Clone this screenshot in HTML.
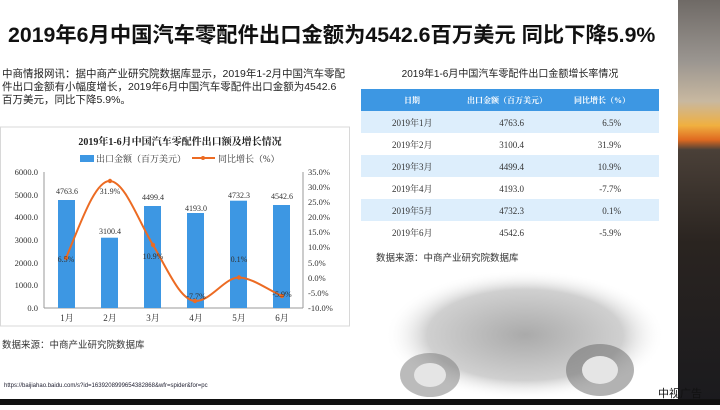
<!DOCTYPE html><html><head><meta charset="utf-8"><style>
body{margin:0;width:720px;height:405px;overflow:hidden;background:#fff;font-family:"Liberation Sans","Noto Sans CJK SC",sans-serif}
svg text{font-family:"Liberation Serif","Noto Serif CJK SC",serif}
.s{font-family:"Liberation Sans","Noto Sans CJK SC",sans-serif}
</style></head><body>
<svg width="720" height="405" viewBox="0 0 720 405">
<defs>
<linearGradient id="sky" x1="0" y1="0" x2="0" y2="1">
<stop offset="0" stop-color="#6f6a66"/><stop offset="0.15" stop-color="#9a9590"/><stop offset="0.25" stop-color="#c8b8a0"/><stop offset="0.31" stop-color="#f0b040"/><stop offset="0.345" stop-color="#e06a20"/><stop offset="0.37" stop-color="#4a4038"/><stop offset="0.6" stop-color="#2a2420"/><stop offset="1" stop-color="#1a1a1e"/>
</linearGradient>
<radialGradient id="car" cx="0.5" cy="0.5" r="0.5"><stop offset="0" stop-color="#aaa"/><stop offset="0.7" stop-color="#d0d0d0"/><stop offset="1" stop-color="#fff" stop-opacity="0"/></radialGradient>
</defs>
<rect x="678" y="0" width="42" height="405" fill="url(#sky)"/>
<rect x="0" y="399" width="720" height="6" fill="#111"/>
<text class="s" x="8" y="42" font-size="21.3" font-weight="bold" fill="#111">2019年6月中国汽车零配件出口金额为4542.6百万美元 同比下降5.9%</text>
<text class="s" font-size="10.5" fill="#222"><tspan x="2" y="77">中商情报网讯：据中商产业研究院数据库显示，2019年1-2月中国汽车零配</tspan><tspan x="2" y="90">件出口金额有小幅度增长，2019年6月中国汽车零配件出口金额为4542.6</tspan><tspan x="2" y="103">百万美元，同比下降5.9%。</tspan></text>
<rect x="0.5" y="127" width="349" height="199" fill="#fff" stroke="#d8d8d8"/>
<text x="180" y="145" font-size="10" font-weight="bold" text-anchor="middle" fill="#222">2019年1-6月中国汽车零配件出口额及增长情况</text>
<rect x="80" y="155" width="14" height="7" fill="#3d97e3"/><text x="96" y="162" font-size="9" fill="#333">出口金额（百万美元）</text>
<line x1="192" y1="158" x2="215" y2="158" stroke="#ec6b23" stroke-width="2"/><circle cx="203" cy="158" r="2" fill="#ec6b23"/><text x="218" y="162" font-size="9" fill="#333">同比增长（%）</text>
<g font-size="8.5" fill="#333">
<text x="38" y="175" text-anchor="end">6000.0</text><text x="38" y="198" text-anchor="end">5000.0</text><text x="38" y="220" text-anchor="end">4000.0</text><text x="38" y="243" text-anchor="end">3000.0</text><text x="38" y="266" text-anchor="end">2000.0</text><text x="38" y="288" text-anchor="end">1000.0</text><text x="38" y="311" text-anchor="end">0.0</text>
<text x="308" y="175">35.0%</text><text x="308" y="190">30.0%</text><text x="308" y="205">25.0%</text><text x="308" y="220">20.0%</text><text x="308" y="235">15.0%</text><text x="308" y="250">10.0%</text><text x="308" y="266">5.0%</text><text x="308" y="281">0.0%</text><text x="308" y="296">-5.0%</text><text x="308" y="311">-10.0%</text>
</g>
<line x1="44" y1="172" x2="44" y2="308" stroke="#999"/><line x1="303" y1="172" x2="303" y2="308" stroke="#999"/><line x1="44" y1="308" x2="303" y2="308" stroke="#999"/>
<g fill="#3d97e3">
<rect x="58" y="200" width="17" height="108"/><rect x="101" y="237.7" width="17" height="70.3"/><rect x="144" y="206" width="17" height="102"/><rect x="187" y="213" width="17" height="95"/><rect x="230" y="200.7" width="17" height="107.3"/><rect x="273" y="205" width="17" height="103"/>
</g>
<path d="M66,258 C80,225 95,180 110,181 C125,182 138,220 153,245 C168,270 180,300 195,301 C210,302 225,277 239,277.5 C253,278 268,290 282,296" fill="none" stroke="#ec6b23" stroke-width="2"/>
<g fill="#ec6b23"><circle cx="66" cy="258" r="2.2"/><circle cx="110" cy="181" r="2.2"/><circle cx="153" cy="245" r="2.2"/><circle cx="195" cy="301" r="2.2"/><circle cx="239" cy="277.5" r="2.2"/><circle cx="282" cy="296" r="2.2"/></g>
<g font-size="8" fill="#333" text-anchor="middle">
<text x="67" y="194">4763.6</text><text x="110" y="234">3100.4</text><text x="153" y="200">4499.4</text><text x="196" y="211">4193.0</text><text x="239" y="198">4732.3</text><text x="282" y="199">4542.6</text>
<text x="66" y="262">6.5%</text><text x="110" y="194">31.9%</text><text x="153" y="259">10.9%</text><text x="196" y="299">-7.7%</text><text x="239" y="262">0.1%</text><text x="282" y="297">-5.9%</text>
</g>
<g font-size="9" fill="#333" text-anchor="middle"><text x="67" y="321">1月</text><text x="110" y="321">2月</text><text x="153" y="321">3月</text><text x="196" y="321">4月</text><text x="239" y="321">5月</text><text x="282" y="321">6月</text></g>
<text class="s" x="2" y="348" font-size="9.5" fill="#333">数据来源：中商产业研究院数据库</text>
<text class="s" x="4" y="387" font-size="6" fill="#223">https://baijiahao.baidu.com/s?id=1639208999654382868&amp;wfr=spider&amp;for=pc</text>
<text class="s" x="510" y="77" font-size="10" text-anchor="middle" fill="#222">2019年1-6月中国汽车零配件出口金额增长率情况</text>
<rect x="361" y="89" width="298" height="22" fill="#3d97e3"/>
<g font-size="8" fill="#fff" font-weight="bold" text-anchor="middle"><text x="412" y="103">日期</text><text x="507" y="103">出口金额（百万美元）</text><text x="602" y="103">同比增长（%）</text></g>
<rect x="361" y="111" width="298" height="22" fill="#ddeefc"/><rect x="361" y="155" width="298" height="22" fill="#ddeefc"/><rect x="361" y="199" width="298" height="22" fill="#ddeefc"/>
<g font-size="9" fill="#333">
<text x="392" y="126">2019年1月</text><text x="392" y="148">2019年2月</text><text x="392" y="170">2019年3月</text><text x="392" y="192">2019年4月</text><text x="392" y="214">2019年5月</text><text x="392" y="236">2019年6月</text>
<g text-anchor="end"><text x="524" y="126">4763.6</text><text x="524" y="148">3100.4</text><text x="524" y="170">4499.4</text><text x="524" y="192">4193.0</text><text x="524" y="214">4732.3</text><text x="524" y="236">4542.6</text>
<text x="621" y="126">6.5%</text><text x="621" y="148">31.9%</text><text x="621" y="170">10.9%</text><text x="621" y="192">-7.7%</text><text x="621" y="214">0.1%</text><text x="621" y="236">-5.9%</text></g>
</g>
<text class="s" x="376" y="261" font-size="9.5" fill="#333">数据来源：中商产业研究院数据库</text>
<ellipse cx="525" cy="335" rx="140" ry="65" fill="url(#car)"/>
<ellipse cx="430" cy="375" rx="30" ry="22" fill="#777" opacity="0.5"/><ellipse cx="600" cy="370" rx="34" ry="26" fill="#666" opacity="0.5"/><ellipse cx="430" cy="375" rx="16" ry="12" fill="#e5e5e5"/><ellipse cx="600" cy="370" rx="18" ry="14" fill="#e5e5e5"/>
<text class="s" x="658" y="397" font-size="11" fill="#111">中视广告</text>
</svg></body></html>
